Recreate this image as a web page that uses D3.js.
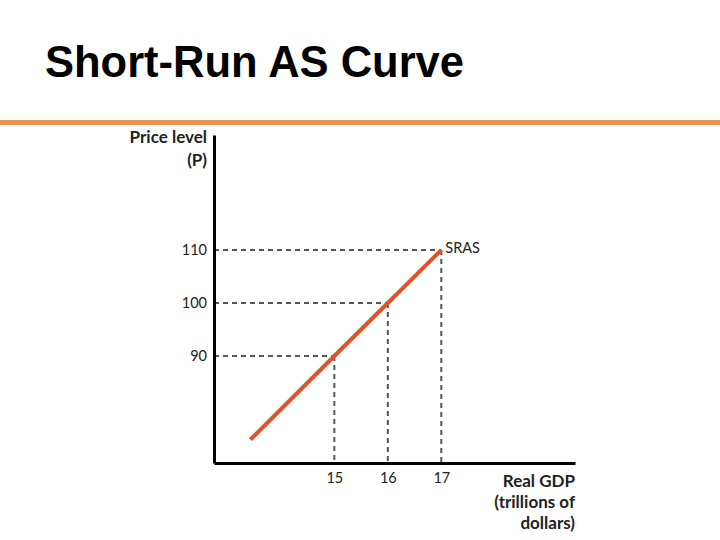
<!DOCTYPE html>
<html><head><meta charset="utf-8">
<script src="https://cdn.jsdelivr.net/npm/d3@7"></script>
<style>body{margin:0;background:#fff}svg{display:block}</style>
</head><body>
<svg id="c" width="720" height="540"></svg>
<script>
const title = "Short-Run AS Curve";
const xTicks = [15, 16, 17];
const yTicks = [90, 100, 110];
const srasGDP = [13.43, 15, 16, 17];
const srasPrice = [74.2, 90, 100, 110];
const markGDP = [15, 16, 17];
const markPrice = [90, 100, 110];
const seriesLabel = "SRAS";
const yLabel = ["Price level", "(P)"];
const xLabel = ["Real GDP", "(trillions of", "dollars)"];

const svg = d3.select("#c");
const x = d3.scaleLinear().domain([12.75, 19.5]).range([214, 575]);
const y = d3.scaleLinear().domain([69.8, 131.7]).range([463, 135]);

svg.append("text").attr("x", 45).attr("y", 77)
  .attr("font-family", "Liberation Sans, Arial, sans-serif").attr("font-weight", "bold")
  .attr("font-size", 44).attr("textLength", 419).attr("lengthAdjust", "spacingAndGlyphs")
  .attr("fill", "#000").text(title);
svg.append("rect").attr("x", 0).attr("y", 120).attr("width", 720).attr("height", 5).attr("fill", "#E8954F");

const lab = "Lato, 'Open Sans', sans-serif";
// dashed guides
const g = svg.append("g");
markGDP.forEach((gd, i) => {
  const pr = markPrice[i];
  g.append("line").attr("x1", x.range()[0]).attr("x2", x(gd)).attr("y1", y(pr)).attr("y2", y(pr))
    .attr("stroke", "#555").attr("stroke-width", 2).attr("stroke-dasharray", "5,4");
  g.append("line").attr("x1", x(gd)).attr("x2", x(gd)).attr("y1", y(pr)).attr("y2", y.range()[0])
    .attr("stroke", "#555").attr("stroke-width", 2).attr("stroke-dasharray", "5,4");
});

// axes
const xAxis = d3.axisBottom(x).tickValues(xTicks).tickFormat(d3.format("d")).tickSize(0).tickPadding(10);
const yAxis = d3.axisLeft(y).tickValues(yTicks).tickFormat(d3.format("d")).tickSize(0).tickPadding(7);
const gx = svg.append("g").attr("transform", `translate(0,${y.range()[0]})`).call(xAxis);
const gy = svg.append("g").attr("transform", `translate(${x.range()[0]},0)`).call(yAxis);
[gx, gy].forEach(a => {
  a.select(".domain").attr("stroke", "#000").attr("stroke-width", 3);
  a.selectAll("text").attr("font-family", lab).attr("font-size", 14.5).attr("fill", "#222");
});

// SRAS line
const pts = srasGDP.map((d, i) => [d, srasPrice[i]]);
svg.append("path").datum(pts)
  .attr("d", d3.line().x(d => x(d[0])).y(d => y(d[1])))
  .attr("fill", "none").attr("stroke", "#D9552A").attr("stroke-width", 4);
svg.append("text").attr("x", x(17) + 4).attr("y", y(110) + 3)
  .attr("font-family", lab).attr("font-size", 14.5).attr("fill", "#222").text(seriesLabel);

// axis titles
yLabel.forEach((t, i) => svg.append("text").attr("x", 207).attr("y", 143 + i * 23)
  .attr("text-anchor", "end").attr("font-family", lab).attr("font-weight", "bold")
  .attr("font-size", 17).attr("fill", "#222").text(t));
xLabel.forEach((t, i) => svg.append("text").attr("x", 575).attr("y", 487 + i * 21)
  .attr("text-anchor", "end").attr("font-family", lab).attr("font-weight", "bold")
  .attr("font-size", 17).attr("fill", "#222").text(t));
</script>
</body></html>
